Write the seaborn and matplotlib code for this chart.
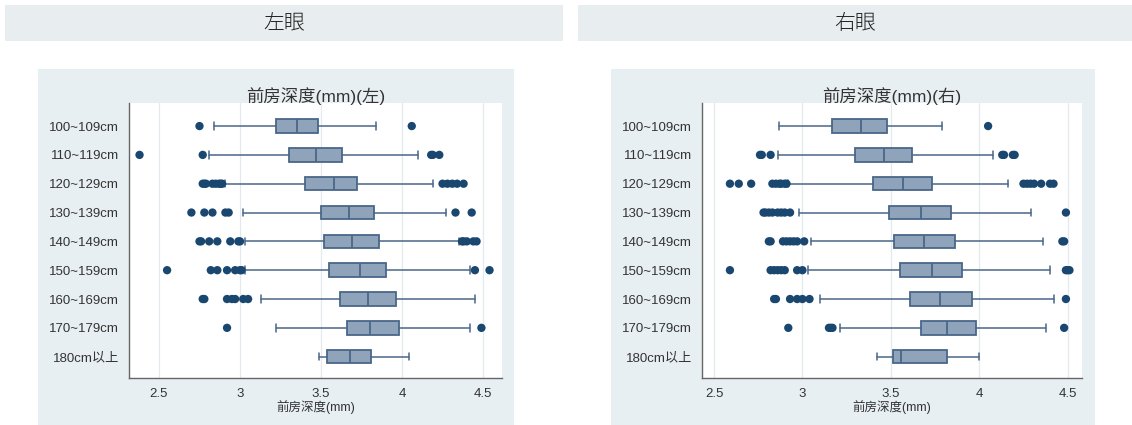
import matplotlib
matplotlib.use("Agg")
import matplotlib.pyplot as plt
import seaborn as sns
import pandas as pd
from matplotlib.patches import Rectangle

# categories (height groups)
groups = ["100~109cm", "110~119cm", "120~129cm", "130~139cm", "140~149cm",
          "150~159cm", "160~169cm", "170~179cm", "180cm以上"]

# left eye box stats: whisker low, q1, median, q3, whisker high
left_wlo = [2.84, 2.81, 2.91, 3.02, 3.03, 3.03, 3.13, 3.22, 3.49]
left_q1 = [3.22, 3.30, 3.40, 3.50, 3.52, 3.55, 3.62, 3.66, 3.54]
left_med = [3.35, 3.47, 3.58, 3.67, 3.69, 3.74, 3.79, 3.80, 3.68]
left_q3 = [3.48, 3.63, 3.72, 3.83, 3.86, 3.90, 3.96, 3.98, 3.81]
left_whi = [3.84, 4.10, 4.19, 4.27, 4.35, 4.42, 4.45, 4.42, 4.04]
left_out = [
    [2.75, 4.06],
    [2.38, 2.77, 4.18, 4.19, 4.23],
    [2.77, 2.78, 2.79, 2.83, 2.85, 2.87, 2.88, 2.89, 4.25, 4.28, 4.31, 4.34, 4.38],
    [2.70, 2.78, 2.83, 2.91, 2.93, 4.33, 4.43],
    [2.75, 2.76, 2.81, 2.86, 2.94, 2.99, 3.00, 4.37, 4.38, 4.40, 4.44, 4.46],
    [2.55, 2.82, 2.86, 2.92, 2.97, 3.00, 3.01, 4.45, 4.54],
    [2.77, 2.78, 2.92, 2.95, 2.97, 3.02, 3.05],
    [2.92, 4.49],
    [],
]

# right eye box stats
right_wlo = [2.87, 2.86, 2.92, 2.98, 3.05, 3.03, 3.10, 3.21, 3.42]
right_q1 = [3.17, 3.30, 3.40, 3.49, 3.52, 3.55, 3.61, 3.67, 3.51]
right_med = [3.33, 3.46, 3.57, 3.67, 3.69, 3.73, 3.78, 3.82, 3.56]
right_q3 = [3.48, 3.62, 3.73, 3.84, 3.86, 3.90, 3.96, 3.98, 3.82]
right_whi = [3.79, 4.08, 4.16, 4.29, 4.36, 4.40, 4.42, 4.38, 4.00]
right_out = [
    [4.05],
    [2.76, 2.77, 2.82, 4.13, 4.14, 4.19, 4.20],
    [2.59, 2.64, 2.71, 2.83, 2.85, 2.87, 2.88, 2.90, 2.91, 4.25, 4.27, 4.29, 4.31, 4.35, 4.40, 4.42],
    [2.78, 2.79, 2.81, 2.83, 2.86, 2.88, 2.90, 2.93, 4.49],
    [2.81, 2.82, 2.89, 2.91, 2.93, 2.95, 2.97, 3.01, 4.47, 4.48],
    [2.59, 2.82, 2.84, 2.86, 2.88, 2.90, 2.97, 3.00, 4.49, 4.50, 4.51],
    [2.84, 2.85, 2.93, 2.97, 3.00, 3.04, 4.49],
    [2.92, 3.15, 3.16, 3.17, 4.48],
    [],
]

headers = ["左眼", "右眼"]
titles = ["前房深度(mm)(左)", "前房深度(mm)(右)"]
xlabel = "前房深度(mm)"
xticks = [2.5, 3, 3.5, 4, 4.5]
xtick_labels = ["2.5", "3", "3.5", "4", "4.5"]

sns.set_theme(style="white")
# Arial-like latin glyphs, CJK falls back to Noto
plt.rcParams["font.family"] = ["Liberation Sans", "Noto Sans CJK SC", "DejaVu Sans"]

W, H = 1132, 425
fig = plt.figure(figsize=(W / 100, H / 100), dpi=100)
fig.patch.set_facecolor("white")

box_face = "#8fa3ba"
box_edge = "#4a6789"
dot_color = "#1a476f"
panel_bg = "#e8eff2"


def px_rect(x0, y0, x1, y1):
    # pixel box (from top-left) -> figure fraction [l, b, w, h]
    return [x0 / W, 1 - y1 / H, (x1 - x0) / W, (y1 - y0) / H]


# header bars
for hx0, hx1, txt in [(5, 563, headers[0]), (578, 1132, headers[1])]:
    l, b, w, h = px_rect(hx0, 5, hx1, 41)
    fig.patches.append(Rectangle((l, b), w, h, transform=fig.transFigure,
                                 facecolor="#e8eef0", edgecolor="none", zorder=-2))
    fig.text(l + w / 2, b + h / 2, txt, ha="center", va="center",
             fontsize=15, color="#222222", family=["Noto Sans CJK JP", "DejaVu Sans"],
             fontweight="light")

# panel backgrounds
for px0, px1 in [(38, 514), (611, 1095)]:
    l, b, w, h = px_rect(px0, 69, px1, 425)
    fig.patches.append(Rectangle((l, b), w, h, transform=fig.transFigure,
                                 facecolor=panel_bg, edgecolor="none", zorder=-2))

panels = [
    (px_rect(129, 103, 502, 378), (2.315, 4.617), titles[0],
     left_wlo, left_q1, left_med, left_q3, left_whi, left_out),
    (px_rect(702, 103, 1082, 378), (2.432, 4.581), titles[1],
     right_wlo, right_q1, right_med, right_q3, right_whi, right_out),
]

for rect, xlim, title, wlo, q1, med, q3, whi, outs in panels:
    ax = fig.add_axes(rect)
    ax.set_facecolor("white")

    stats = []
    for i in range(len(groups)):
        stats.append({"whislo": wlo[i], "q1": q1[i], "med": med[i],
                      "q3": q3[i], "whishi": whi[i], "fliers": []})
    ax.bxp(stats, positions=range(len(groups)), widths=0.47, capwidths=0.26,
           orientation="horizontal", showfliers=False, patch_artist=True,
           boxprops=dict(facecolor=box_face, edgecolor=box_edge, linewidth=1.3),
           medianprops=dict(color=box_edge, linewidth=1.3),
           whiskerprops=dict(color=box_edge, linewidth=1.1),
           capprops=dict(color=box_edge, linewidth=1.1))

    out_df = pd.DataFrame({
        "value": [v for i, vals in enumerate(outs) for v in vals],
        "pos": [i for i, vals in enumerate(outs) for v in vals],
    })
    sns.scatterplot(data=out_df, x="value", y="pos", ax=ax, color=dot_color,
                    s=36, edgecolor="none", zorder=3, legend=False)

    ax.set_xlim(*xlim)
    ax.set_ylim(8.74, -0.8)
    ax.set_yticks(range(len(groups)))
    ax.set_yticklabels(groups, fontsize=9.5, color="#333333")
    ax.set_xticks(xticks)
    ax.set_xticklabels(xtick_labels, fontsize=9.5, color="#333333")
    ax.tick_params(axis="x", length=4, width=0.8, color="#555555", pad=3)
    ax.tick_params(axis="y", length=0, pad=7)
    ax.set_xlabel(xlabel, fontsize=9, color="#333333", labelpad=0)
    ax.set_ylabel("")
    ax.set_title(title, fontsize=12.5, color="#333333", pad=1)
    ax.grid(True, axis="x", color="#e3e9ee", linewidth=0.9)
    ax.set_axisbelow(True)
    for side in ["top", "right"]:
        ax.spines[side].set_visible(False)
    for side in ["left", "bottom"]:
        ax.spines[side].set_color("#666666")
        ax.spines[side].set_linewidth(1.0)

fig.savefig("out.png", dpi=100)
